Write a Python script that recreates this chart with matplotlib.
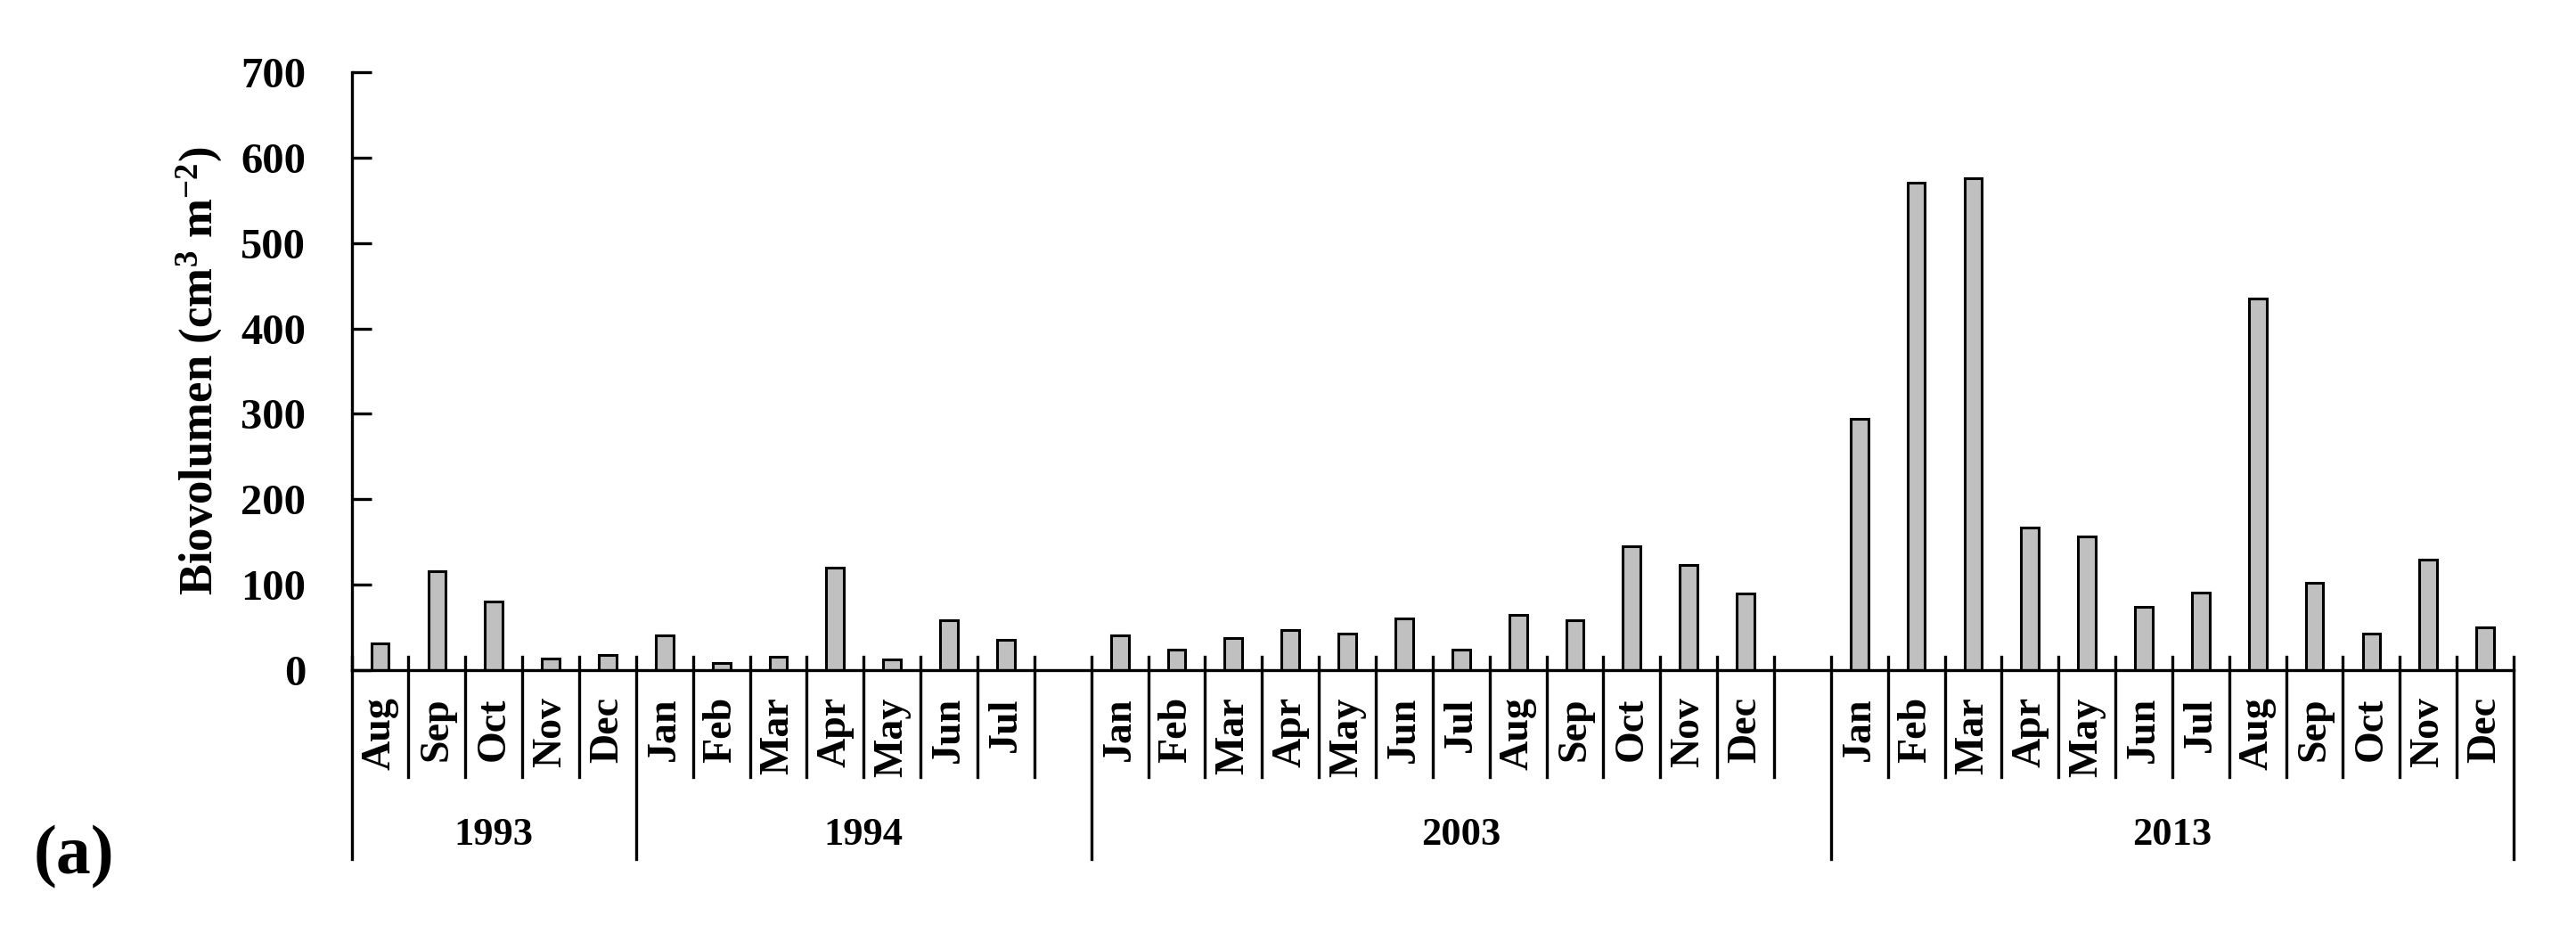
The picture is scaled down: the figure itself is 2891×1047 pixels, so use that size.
import numpy as np
import matplotlib
matplotlib.use('Agg')
import matplotlib.pyplot as plt
import matplotlib.transforms as mtransforms

# monthly biovolume (cm3 m-2) per sampling year
years = ['1993', '1994', '2003', '2013']
months_1993 = ['Aug', 'Sep', 'Oct', 'Nov', 'Dec']
values_1993 = [31, 116, 80, 13, 18]
months_1994 = ['Jan', 'Feb', 'Mar', 'Apr', 'May', 'Jun', 'Jul']
values_1994 = [41, 8, 16, 120, 12, 58, 35]
months_2003 = ['Jan', 'Feb', 'Mar', 'Apr', 'May', 'Jun',
               'Jul', 'Aug', 'Sep', 'Oct', 'Nov', 'Dec']
values_2003 = [41, 24, 38, 47, 43, 60, 24, 65, 58, 145, 123, 90]
months_2013 = ['Jan', 'Feb', 'Mar', 'Apr', 'May', 'Jun',
               'Jul', 'Aug', 'Sep', 'Oct', 'Nov', 'Dec']
values_2013 = [294, 571, 576, 167, 156, 74, 91, 435, 102, 43, 129, 50]
# the 1994 and 2003 groups carry one empty slot at their end
empty_slots = [0, 1, 1, 0]

FONT = 'Liberation Serif'
plt.rcParams['font.family'] = FONT
plt.rcParams['font.weight'] = 'bold'
plt.rcParams['mathtext.fontset'] = 'custom'
plt.rcParams['mathtext.rm'] = FONT + ':bold'
plt.rcParams['mathtext.bf'] = FONT + ':bold'
plt.rcParams['mathtext.it'] = FONT + ':bold'

LW = 2.4
FS = 33

# build slot list
labels, values, group_sizes = [], [], []
for m, v, e in zip([months_1993, months_1994, months_2003, months_2013],
                   [values_1993, values_1994, values_2003, values_2013],
                   empty_slots):
    labels += m + [''] * e
    values += v + [np.nan] * e
    group_sizes.append(len(m) + e)
n = len(labels)
x = np.arange(n) + 0.5
bounds = np.concatenate([[0], np.cumsum(group_sizes)])

fig = plt.figure(figsize=(28.91, 10.47), dpi=100)
ax = fig.add_axes([0.1365, 0.2818, 0.8393, 0.6409])

ax.bar(x, values, width=0.31, color='#c0c0c0', edgecolor='black', linewidth=2.2, zorder=3)

ax.set_xlim(0, n)
ax.set_ylim(0, 700)
ax.set_yticks(range(0, 701, 100))
ax.tick_params(axis='y', direction='in', length=16, width=LW, pad=37, labelsize=FS + 2)
for lab in ax.get_yticklabels():
    lab.set_fontweight('bold')
ax.set_xticks([])
for s in ['top', 'right', 'bottom']:
    ax.spines[s].set_visible(False)
ax.spines['left'].set_linewidth(LW)
ax.axhline(0, color='black', linewidth=LW, zorder=4, clip_on=False)

# multi-level category axis
trans = mtransforms.blended_transform_factory(ax.transData, ax.transAxes)
for b in range(n + 1):
    if b in bounds:
        ax.plot([b, b], [0.0224, -0.316], color='black', lw=LW, transform=trans, clip_on=False)
    else:
        ax.plot([b, b], [0.0224, -0.179], color='black', lw=LW, transform=trans, clip_on=False)

for xi, lab in zip(x, labels):
    if lab:
        ax.text(xi, -0.045, lab, transform=trans, rotation=90, ha='center', va='top',
                fontsize=FS, fontweight='bold')

for i, yr in enumerate(years):
    ax.text((bounds[i] + bounds[i + 1]) / 2, -0.276, yr, transform=trans,
            ha='center', va='center', fontsize=FS - 1, fontweight='bold')

ax.text(-0.0705, 0.5, r'Biovolumen (cm$^{3}$ m$^{-2}$)', transform=ax.transAxes,
        rotation=90, ha='center', va='center', fontsize=FS + 5, fontweight='bold')

fig.text(0.0287, 0.0812, '(a)', ha='center', va='center', fontsize=56, fontweight='bold')

fig.savefig('out.png', dpi=100)
